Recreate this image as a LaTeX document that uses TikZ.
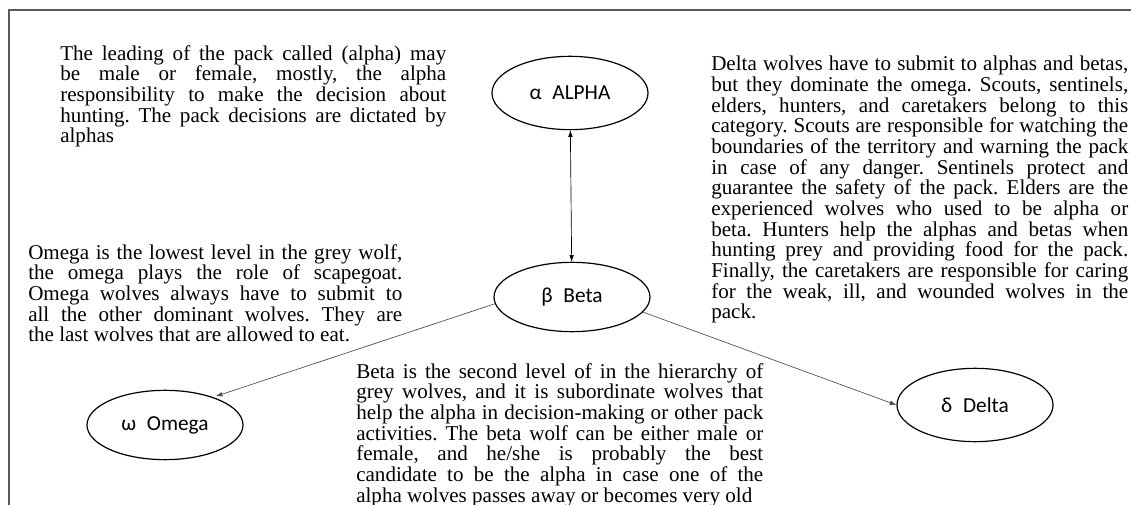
\documentclass[tikz,border=0pt]{standalone}
\usepackage{fontspec}
\setmainfont{Liberation Serif}
\newfontfamily\rankfont{Carlito}
\usetikzlibrary{arrows.meta,shapes.geometric}
\frenchspacing

\begin{document}
\begin{tikzpicture}[x=0.75pt, y=-0.75pt,
    rank/.style ={ellipse, draw, line width=0.9pt, inner sep=0pt,
                  minimum width=117pt, minimum height=52pt,
                  font=\rankfont\fontsize{16}{18}\selectfont},
    note/.style ={anchor=north west, inner sep=0pt, align=justify,
                  font=\fontsize{15.8}{15.5}\selectfont},
    link/.style ={line width=0.5pt, black!70, -{Latex[length=5pt,width=3.5pt]}}]
   \useasboundingbox (0,0) rectangle (1131,505);
   \draw[black!65, line width=1.5pt] (9,505) -- (9,10) -- (1131,10);

   \node[rank, minimum height=55pt] (alpha) at (570,93)  {α\enspace ALPHA};
   \node[rank] (beta)  at (572,297) {β\enspace Beta};
   \node[rank] (omega) at (165,425) {ω\enspace Omega};
   \node[rank, minimum height=55pt] (delta) at (975,405) {δ\enspace Delta};

   \node[note, text width=289.5pt] (alphanote) at (60,45) {The leading of the pack called (alpha) may\linebreak
     be male or female, mostly, the alpha\linebreak
     responsibility to make the decision about\linebreak
     hunting. The pack decisions are dictated by\linebreak
     alphas};
   \node[note, text width=312.75pt] (deltanote) at (711,56) {Delta wolves have to submit to alphas and betas,\linebreak
     but they dominate the omega. Scouts, sentinels,\linebreak
     elders, hunters, and caretakers belong to this\linebreak
     category. Scouts are responsible for watching the\linebreak
     boundaries of the territory and warning the pack\linebreak
     in case of any danger. Sentinels protect and\linebreak
     guarantee the safety of the pack. Elders are the\linebreak
     experienced wolves who used to be alpha or\linebreak
     beta. Hunters help the alphas and betas when\linebreak
     hunting prey and providing food for the pack.\linebreak
     Finally, the caretakers are responsible for caring\linebreak
     for the weak, ill, and wounded wolves in the\linebreak
     pack.};
   \node[note, text width=280.5pt] (omeganote) at (28,244) {Omega is the lowest level in the grey wolf,\linebreak
     the omega plays the role of scapegoat.\linebreak
     Omega wolves always have to submit to\linebreak
     all the other dominant wolves. They are\linebreak
     the last wolves that are allowed to eat.};
   \node[note, text width=305.25pt] (betanote) at (356,363) {Beta is the second level of in the hierarchy of\linebreak
     grey wolves, and it is subordinate wolves that\linebreak
     help the alpha in decision-making or other pack\linebreak
     activities. The beta wolf can be either male or\linebreak
     female, and he/she is probably the best\linebreak
     candidate to be the alpha in case one of the\linebreak
     alpha wolves passes away or becomes very old};

   \draw[link, black, {Latex[length=5pt,width=3.5pt]}-{Latex[length=5pt,width=3.5pt]}] (alpha) to (beta);
   \draw[link, shorten >=2pt] (beta.185) to (omega.30);
   \draw[link] (beta.-12) to (delta.west);
\end{tikzpicture}
\end{document}
